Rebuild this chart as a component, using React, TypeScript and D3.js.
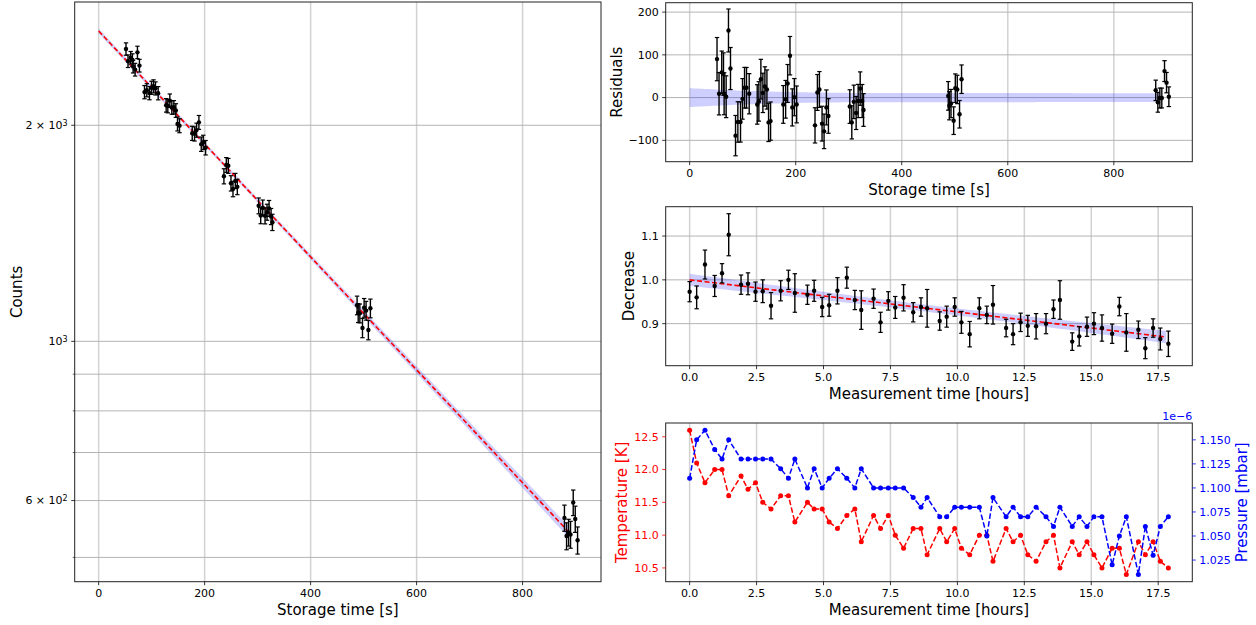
import React from 'react';
import * as d3 from 'd3';

// ---------- data ----------
const storageTime = [51.6, 55.4, 60.5, 63.8, 65.0, 68.8, 73.2, 77.0, 86.5, 90.9, 95.9, 99.7, 103.5, 107.2, 112.3, 127.4, 130.5, 134.3, 138.1, 141.9, 145.7, 148.8, 152.6, 176.6, 181.0, 184.8, 189.2, 193.6, 197.4, 201.8, 236.4, 240.9, 244.7, 249.7, 253.5, 257.9, 261.7, 302.0, 305.8, 309.6, 314.0, 317.8, 321.6, 325.4, 327.9, 487.7, 489.8, 492.9, 497.9, 501.0, 504.7, 509.0, 512.8, 879.0, 883.0, 886.8, 890.5, 895.6, 899.4, 903.8];
const residual = [90, 9, 59, 55, 9, 2, 157, 68, -89, -57, -57, -3, 23, 23, 9, -16, -9, 43, 11, 26, 19, -58, -55, -16, -4, 33, 98, -23, 1, -16, -65, 12, 19, -61, -79, -23, -43, -21, -58, -10, -36, -8, 21, -8, -29, 4, -19, -14, -54, 22, 19, -39, 43, 17, -11, -1, -1, 62, 35, 2];
const fitN0 = 2706;
const fitTau = 552;
const fitEnd = 888;
const bandTime = [0, 100, 200, 300, 500, 700, 900];
const bandHalf = [22, 16, 12.5, 11, 11, 10.5, 10];

const measTime = [0, 0.262, 0.573, 0.935, 1.21, 1.459, 1.92, 2.18, 2.46, 2.73, 3.04, 3.40, 3.69, 3.93, 4.40, 4.65, 4.95, 5.21, 5.52, 5.87, 6.17, 6.41, 6.87, 7.13, 7.42, 7.68, 7.99, 8.35, 8.64, 8.87, 9.34, 9.60, 9.90, 10.15, 10.46, 10.82, 11.10, 11.33, 11.82, 12.08, 12.36, 12.63, 12.94, 13.31, 13.59, 13.83, 14.29, 14.55, 14.84, 15.10, 15.40, 15.78, 16.05, 16.31, 16.76, 17.02, 17.31, 17.58, 17.88];
const decrease = [0.973, 0.960, 1.035, 0.986, 1.015, 1.103, 0.989, 0.991, 0.973, 0.974, 0.941, 0.975, 1.000, 0.970, 0.966, 0.975, 0.938, 0.942, 0.975, 1.005, 0.954, 0.931, 0.957, 0.903, 0.952, 0.937, 0.959, 0.926, 0.938, 0.935, 0.906, 0.916, 0.938, 0.903, 0.876, 0.935, 0.920, 0.943, 0.890, 0.876, 0.903, 0.895, 0.894, 0.900, 0.933, 0.954, 0.859, 0.871, 0.893, 0.900, 0.890, 0.877, 0.939, 0.880, 0.886, 0.844, 0.890, 0.865, 0.854];
const decreaseErr = [0.023, 0.026, 0.033, 0.024, 0.022, 0.048, 0.022, 0.025, 0.022, 0.026, 0.030, 0.023, 0.022, 0.044, 0.022, 0.024, 0.022, 0.025, 0.030, 0.024, 0.022, 0.044, 0.022, 0.023, 0.021, 0.025, 0.030, 0.022, 0.021, 0.043, 0.021, 0.024, 0.021, 0.025, 0.029, 0.024, 0.020, 0.044, 0.020, 0.024, 0.021, 0.024, 0.029, 0.023, 0.021, 0.044, 0.020, 0.022, 0.022, 0.025, 0.030, 0.022, 0.021, 0.043, 0.020, 0.024, 0.021, 0.025, 0.029];
const decFitIntercept = 1.0;
const decFitSlope = -0.00733;
const decBandMin = 0.008;
const decBandCenter = 8.9;
const decBandGrowth = 0.0013;

const temperature = [12.6, 12.1, 11.8, 12.0, 12.0, 11.6, 11.9, 11.7, 11.8, 11.5, 11.4, 11.6, 11.6, 11.2, 11.5, 11.4, 11.4, 11.2, 11.1, 11.3, 11.4, 10.9, 11.3, 11.1, 11.3, 11.0, 10.8, 11.1, 11.1, 10.7, 11.1, 10.9, 11.1, 10.8, 10.7, 11.0, 11.0, 10.6, 11.1, 10.9, 11.0, 10.7, 10.6, 10.9, 11.0, 10.5, 10.9, 10.7, 10.9, 10.7, 10.5, 10.8, 10.8, 10.4, 10.9, 10.7, 10.9, 10.6, 10.5];
const pressure = [1.11, 1.15, 1.16, 1.14, 1.13, 1.15, 1.13, 1.13, 1.13, 1.13, 1.13, 1.12, 1.11, 1.13, 1.10, 1.12, 1.10, 1.11, 1.12, 1.11, 1.10, 1.12, 1.10, 1.10, 1.10, 1.10, 1.10, 1.09, 1.08, 1.09, 1.07, 1.07, 1.08, 1.08, 1.08, 1.08, 1.05, 1.09, 1.07, 1.08, 1.07, 1.07, 1.08, 1.07, 1.06, 1.08, 1.06, 1.07, 1.06, 1.07, 1.07, 1.02, 1.05, 1.07, 1.01, 1.06, 1.03, 1.06, 1.07];

const storageTicks = [0, 200, 400, 600, 800];
const residualTicks = [-100, 0, 100, 200];
const hourTicks = [0, 2.5, 5, 7.5, 10, 12.5, 15, 17.5];
const decreaseTicks = [0.9, 1.0, 1.1];
const tempTicks = [10.5, 11.0, 11.5, 12.0, 12.5];
const pressureTicks = [1.025, 1.05, 1.075, 1.1, 1.125, 1.15];
const countMajor = [{ v: 2000, m: '2 × 10', e: '3' }, { v: 1000, m: '10', e: '3' }, { v: 600, m: '6 × 10', e: '2' }];
const countMinor = [500, 700, 800, 900];

// ---------- layout ----------
const FONT = 'DejaVu Sans, sans-serif';
const TICK_FS = 11;
const LABEL_FS = 15;
const VGRID = '#d2d2d2';
const HGRID = '#b4b4b4';
const BAND = 'rgba(0,0,255,0.19)';

const L = { x0: 74.7, x1: 601, y0: 2, y1: 581.7 };
const R1 = { x0: 665.7, x1: 1192.3, y0: 2.7, y1: 161.7 };
const R2 = { x0: 665.7, x1: 1192.3, y0: 206.7, y1: 365.7 };
const R3 = { x0: 665.7, x1: 1192.3, y0: 423, y1: 581.7 };

const model = (t: number) => fitN0 * Math.exp(-t / fitTau);
const bandInterp = d3.scaleLinear().domain(bandTime).range(bandHalf);
const decFit = (h: number) => decFitIntercept + decFitSlope * h;
const decHalf = (h: number) => Math.sqrt(decBandMin ** 2 + (decBandGrowth * (h - decBandCenter)) ** 2);

function ErrorBars({ xs, ys, es, sx, sy }: any) {
  return (
    <g>
      {xs.map((x: number, i: number) => {
        const px = sx(x);
        const yTop = sy(ys[i] + es[i]);
        const yBot = sy(ys[i] - es[i]);
        return (
          <g key={i}>
            <line x1={px} x2={px} y1={yTop} y2={yBot} stroke="#000" strokeWidth={1.4} />
            <line x1={px - 2.2} x2={px + 2.2} y1={yTop} y2={yTop} stroke="#000" strokeWidth={1.2} />
            <line x1={px - 2.2} x2={px + 2.2} y1={yBot} y2={yBot} stroke="#000" strokeWidth={1.2} />
            <circle cx={px} cy={sy(ys[i])} r={2.2} fill="#000" />
          </g>
        );
      })}
    </g>
  );
}

function VGrid({ box, sx, ticks }: any) {
  return (
    <g>
      {ticks.map((t: number) => (
        <line key={'g' + t} x1={sx(t)} x2={sx(t)} y1={box.y0} y2={box.y1} stroke={VGRID} strokeWidth={1.5} />
      ))}
    </g>
  );
}

function XTicks({ box, sx, ticks, fmt, label }: any) {
  return (
    <g fontFamily={FONT}>
      {ticks.map((t: number) => (
        <g key={t}>
          <line x1={sx(t)} x2={sx(t)} y1={box.y1} y2={box.y1 + 3.5} stroke="#000" strokeWidth={0.8} />
          <text x={sx(t)} y={box.y1 + 7} dy="0.76em" textAnchor="middle" fontSize={TICK_FS} fill="#000">{fmt(t)}</text>
        </g>
      ))}
      <text x={(box.x0 + box.x1) / 2} y={box.y1 + 28} dy="0.35em" textAnchor="middle" fontSize={LABEL_FS} fill="#000">{label}</text>
    </g>
  );
}

function YTicks({ box, sy, ticks, fmt, color = '#000', side = 'left' }: any) {
  const left = side === 'left';
  const x = left ? box.x0 : box.x1;
  return (
    <g fontFamily={FONT}>
      {ticks.map((t: number) => (
        <g key={t}>
          <line x1={x} x2={left ? x - 3.5 : x + 3.5} y1={sy(t)} y2={sy(t)} stroke={color} strokeWidth={0.8} />
          <text x={left ? x - 7 : x + 7} y={sy(t)} dy="0.35em" textAnchor={left ? 'end' : 'start'} fontSize={TICK_FS} fill={color}>{fmt(t)}</text>
        </g>
      ))}
    </g>
  );
}

function HGrid({ box, sy, ticks }: any) {
  return (
    <g>
      {ticks.map((t: number) => (
        <line key={t} x1={box.x0} x2={box.x1} y1={sy(t)} y2={sy(t)} stroke={HGRID} strokeWidth={1} />
      ))}
    </g>
  );
}

function Frame({ box }: any) {
  return <rect x={box.x0} y={box.y0} width={box.x1 - box.x0} height={box.y1 - box.y0} fill="none" stroke="#222" strokeWidth={1} />;
}

function YLabel({ x, box, text, color = '#000' }: any) {
  const cy = (box.y0 + box.y1) / 2;
  return (
    <text transform={`translate(${x},${cy}) rotate(-90)`} textAnchor="middle" dy="0.35em" fontFamily={FONT} fontSize={LABEL_FS} fill={color}>{text}</text>
  );
}

export default function App() {
  // left: counts, log scale
  const lx = d3.scaleLinear().domain([-45.2, 948]).range([L.x0, L.x1]);
  const ly = d3.scaleLog().domain([462.5, 2970]).range([L.y1, L.y0]);
  const counts = storageTime.map((t, i) => model(t) + residual[i]);
  const countErr = counts.map((c) => Math.sqrt(c));
  const fitTs = d3.range(0, fitEnd + 0.01, 4);
  const fitLine = d3.line<number>().x((t) => lx(t)).y((t) => ly(model(t)))(fitTs) || '';
  const fitArea = d3.area<number>().x((t) => lx(t)).y0((t) => ly(model(t) - bandInterp(t))).y1((t) => ly(model(t) + bandInterp(t)))(fitTs) || '';

  // residuals
  const rx = d3.scaleLinear().domain([-45.2, 948]).range([R1.x0, R1.x1]);
  const ry = d3.scaleLinear().domain([-150, 222]).range([R1.y1, R1.y0]);
  const resArea = d3.area<number>().x((t) => rx(t)).y0((t) => ry(-bandInterp(t))).y1((t) => ry(bandInterp(t)))(fitTs) || '';

  // decrease
  const hx = d3.scaleLinear().domain([-0.894, 18.774]).range([R2.x0, R2.x1]);
  const dy = d3.scaleLinear().domain([0.804, 1.167]).range([R2.y1, R2.y0]);
  const decTs = d3.range(0, 17.88 + 0.001, 0.2);
  const decLine = d3.line<number>().x((h) => hx(h)).y((h) => dy(decFit(h)))(decTs) || '';
  const decArea = d3.area<number>().x((h) => hx(h)).y0((h) => dy(decFit(h) - decHalf(h))).y1((h) => dy(decFit(h) + decHalf(h)))(decTs) || '';

  // temperature & pressure
  const tx = d3.scaleLinear().domain([-0.894, 18.774]).range([R3.x0, R3.x1]);
  const ty = d3.scaleLinear().domain([10.29, 12.71]).range([R3.y1, R3.y0]);
  const py = d3.scaleLinear().domain([1.0025, 1.1675]).range([R3.y1, R3.y0]);
  const idx = d3.range(measTime.length);
  const tempLine = d3.line<number>().x((i) => tx(measTime[i])).y((i) => ty(temperature[i]))(idx) || '';
  const presLine = d3.line<number>().x((i) => tx(measTime[i])).y((i) => py(pressure[i]))(idx) || '';

  const fmtInt = (v: number) => (v < 0 ? '\u2212' + Math.abs(v) : String(v));
  const fmt1 = (v: number) => v.toFixed(1);
  const fmt3 = (v: number) => v.toFixed(3);

  return (
    <svg width={1256} height={625} style={{ position: 'absolute', left: 0, top: 0, background: '#fff' }}>
      <rect x={0} y={0} width={1256} height={625} fill="#fff" />

      {/* ---------- Left panel ---------- */}
      <VGrid box={L} sx={lx} ticks={storageTicks} />
      <HGrid box={L} sy={ly} ticks={[...countMajor.map((d) => d.v), ...countMinor]} />
      <path d={fitArea} fill={BAND} stroke="none" />
      <path d={fitLine} fill="none" stroke="red" strokeWidth={1.6} strokeDasharray="5,2.5" />
      <ErrorBars xs={storageTime} ys={counts} es={countErr} sx={lx} sy={ly} />
      <Frame box={L} />
      <XTicks box={L} sx={lx} ticks={storageTicks} fmt={fmtInt} label="Storage time [s]" />
      <g fontFamily={FONT}>
        {countMajor.map((d) => (
          <g key={d.v}>
            <line x1={L.x0} x2={L.x0 - 3.5} y1={ly(d.v)} y2={ly(d.v)} stroke="#000" strokeWidth={0.8} />
            <text x={L.x0 - 7} y={ly(d.v)} dy="0.35em" textAnchor="end" fontSize={TICK_FS} fill="#000">
              {d.m}
              <tspan dy="-0.45em" fontSize={8}>{d.e}</tspan>
            </text>
          </g>
        ))}
        {countMinor.map((v) => (
          <line key={v} x1={L.x0} x2={L.x0 - 2} y1={ly(v)} y2={ly(v)} stroke="#000" strokeWidth={0.6} />
        ))}
      </g>
      <YLabel x={17} box={L} text="Counts" />

      {/* ---------- Residuals ---------- */}
      <VGrid box={R1} sx={rx} ticks={storageTicks} />
      <HGrid box={R1} sy={ry} ticks={residualTicks} />
      <path d={resArea} fill={BAND} stroke="none" />
      <ErrorBars xs={storageTime} ys={residual} es={countErr} sx={rx} sy={ry} />
      <Frame box={R1} />
      <XTicks box={R1} sx={rx} ticks={storageTicks} fmt={fmtInt} label="Storage time [s]" />
      <YTicks box={R1} sy={ry} ticks={residualTicks} fmt={fmtInt} />
      <YLabel x={617} box={R1} text="Residuals" />

      {/* ---------- Decrease ---------- */}
      <VGrid box={R2} sx={hx} ticks={hourTicks} />
      <HGrid box={R2} sy={dy} ticks={decreaseTicks} />
      <path d={decArea} fill={BAND} stroke="none" />
      <path d={decLine} fill="none" stroke="red" strokeWidth={1.6} strokeDasharray="5,2.5" />
      <ErrorBars xs={measTime} ys={decrease} es={decreaseErr} sx={hx} sy={dy} />
      <Frame box={R2} />
      <XTicks box={R2} sx={hx} ticks={hourTicks} fmt={fmt1} label="Measurement time [hours]" />
      <YTicks box={R2} sy={dy} ticks={decreaseTicks} fmt={fmt1} />
      <YLabel x={629} box={R2} text="Decrease" />

      {/* ---------- Temperature / Pressure ---------- */}
      <VGrid box={R3} sx={tx} ticks={hourTicks} />
      <path d={tempLine} fill="none" stroke="red" strokeWidth={1.5} strokeDasharray="5.5,2.4" />
      {idx.map((i) => <circle key={'t' + i} cx={tx(measTime[i])} cy={ty(temperature[i])} r={2.5} fill="red" />)}
      <path d={presLine} fill="none" stroke="blue" strokeWidth={1.5} strokeDasharray="5.5,2.4" />
      {idx.map((i) => <circle key={'p' + i} cx={tx(measTime[i])} cy={py(pressure[i])} r={2.5} fill="blue" />)}
      <Frame box={R3} />
      <XTicks box={R3} sx={tx} ticks={hourTicks} fmt={fmt1} label="Measurement time [hours]" />
      <YTicks box={R3} sy={ty} ticks={tempTicks} fmt={fmt1} color="red" />
      <YTicks box={R3} sy={py} ticks={pressureTicks} fmt={fmt3} color="blue" side="right" />
      <YLabel x={622} box={R3} text="Temperature [K]" color="red" />
      <YLabel x={1242} box={R3} text="Pressure [mbar]" color="blue" />
      <text x={R3.x1} y={R3.y0 - 3} textAnchor="end" fontFamily={FONT} fontSize={TICK_FS} fill="blue">1e{'\u2212'}6</text>
    </svg>
  );
}
